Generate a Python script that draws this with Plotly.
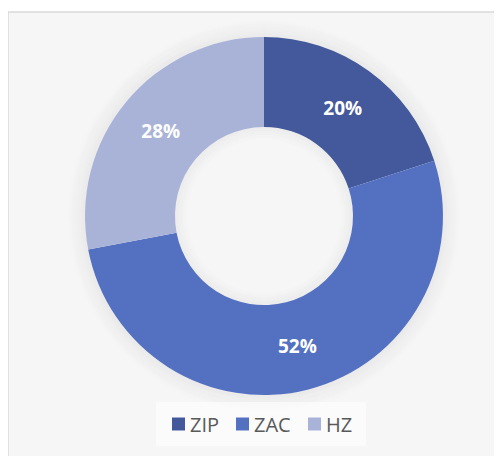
import plotly.graph_objects as go

labels = ["ZIP", "ZAC", "HZ"]
values = [20, 52, 28]
colors = ["#44599B", "#5470C1", "#A9B3D8"]

W, H = 502, 456
OFF = 8  # page body margin
cx, cy, R = 264 - OFF, 216 - OFF, 179
RIN = 89

def px(x):
    return x / W

def py(y):
    return 1 - y / H

fig = go.Figure()
fig.add_trace(go.Pie(
    labels=labels,
    values=values,
    hole=RIN / R,
    sort=False,
    direction="clockwise",
    rotation=0,
    marker=dict(colors=colors, line=dict(width=0)),
    texttemplate="%{percent:.0%}",
    textposition="inside",
    insidetextorientation="horizontal",
    textfont=dict(family="Open Sans", size=19, color="white", weight="bold"),
    domain=dict(x=[px(cx - R), px(cx + R)], y=[py(cy + R), py(cy - R)]),
    hoverinfo="label+percent",
    showlegend=False,
))

shapes = [
    dict(type="rect", xref="paper", yref="paper",
         x0=px(8 - OFF), x1=px(W + 5), y0=py(H + 5), y1=py(12 - OFF),
         fillcolor="#f6f6f6", line=dict(color="#d9d9d9", width=1.5), layer="below"),
]

def ring(r, color, w):
    return dict(type="circle", xref="paper", yref="paper",
                x0=px(cx - r), x1=px(cx + r), y0=py(cy + r), y1=py(cy - r),
                fillcolor="rgba(0,0,0,0)", line=dict(color=color, width=w), layer="below")

# soft glow around the outer edge and inside the hole
for d in range(1, 19, 2):
    a = 0.045 * (1 - d / 19)
    shapes.append(ring(R + d, f"rgba(0,0,0,{a:.4f})", 2.2))
for d in range(1, 13, 2):
    a = 0.04 * (1 - d / 13)
    shapes.append(ring(RIN - d, f"rgba(0,0,0,{a:.4f})", 2.2))

# legend box
shapes.append(dict(type="rect", xref="paper", yref="paper",
                   x0=px(156 - OFF), x1=px(366 - OFF), y0=py(446 - OFF), y1=py(402 - OFF),
                   fillcolor="rgba(255,255,255,0.55)", line=dict(width=0), layer="below"))

# custom legend
leg_x = [172, 236, 308]
leg_y = 424
annotations = []
for lab, col, lx in zip(labels, colors, leg_x):
    x = lx - OFF
    y = leg_y - OFF
    shapes.append(dict(type="rect", xref="paper", yref="paper",
                       x0=px(x), x1=px(x + 13), y0=py(y + 6.5), y1=py(y - 6.5),
                       fillcolor=col, line=dict(width=0)))
    annotations.append(dict(xref="paper", yref="paper", x=px(x + 16), y=py(y),
                            xanchor="left", yanchor="middle", showarrow=False, text=lab,
                            font=dict(family="Open Sans", size=20, color="#595959")))

fig.update_layout(
    width=W, height=H,
    margin=dict(l=0, r=0, t=0, b=0),
    paper_bgcolor="white",
    plot_bgcolor="white",
    shapes=shapes,
    annotations=annotations,
    showlegend=False,
)

fig.write_html("out.html")
